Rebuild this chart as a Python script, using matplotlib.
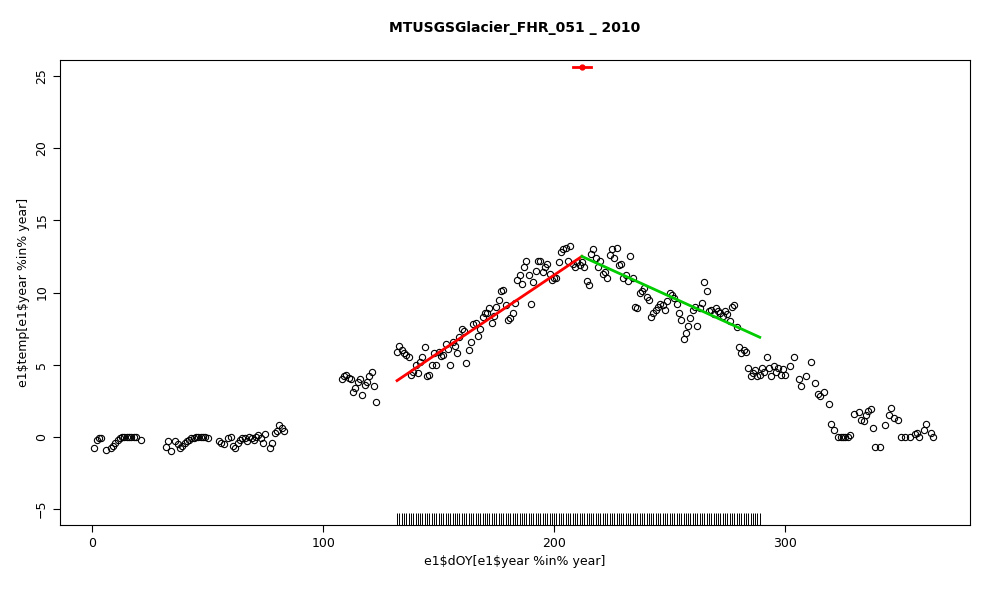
import numpy as np
import matplotlib
matplotlib.use("Agg")
import matplotlib.pyplot as plt
import matplotlib.transforms as mtrans

plt.rcParams['text.parse_math'] = False

# ---- data ----
daysA = [1,2,3,4,6,8,9,10,11,12,13,14,15,16,17,18,19,21]
tempA = [-0.8,-0.2,-0.1,-0.1,-0.9,-0.8,-0.6,-0.4,-0.2,-0.1,0,0,0,0,0,0,0,-0.2]
daysB = [32,33,34,36,37,38,39,40,41,42,43,44,45,46,47,48,49,50]
tempB = [-0.7,-0.3,-1.0,-0.3,-0.5,-0.8,-0.6,-0.4,-0.3,-0.2,-0.1,-0.1,0,0,0,0,0,-0.1]
daysC = [55,56,57,59,60,61,62,63,64,65,66,67,68,69,70,71,72,73,74,75,77,78,79,80,81,82,83]
tempC = [-0.3,-0.4,-0.5,-0.1,0.0,-0.6,-0.8,-0.4,-0.2,-0.1,-0.1,-0.3,0.0,-0.1,-0.2,0.0,0.1,-0.1,-0.4,0.2,-0.8,-0.4,0.3,0.4,0.8,0.6,0.4]
daysD = [108,109,110,111,112,113,114,115,116,117,118,119,120,121,122,123]
tempD = [4.0,4.2,4.3,4.1,4.0,3.1,3.4,3.8,4.0,2.9,3.6,3.8,4.2,4.5,3.5,2.4]
daysE = list(range(132, 300))
tempE = [5.9,6.3,6.0,5.8,5.7,5.5,4.3,4.5,5.0,4.4,
         5.2,5.5,6.2,4.2,4.3,5.0,5.8,5.0,5.9,5.6,
         5.7,6.4,6.1,5.0,6.6,6.3,5.8,6.9,7.5,7.3,
         5.1,6.0,6.6,7.8,7.9,7.0,7.5,8.3,8.6,8.6,
         8.9,7.9,8.4,9.0,9.5,10.1,10.2,9.1,8.1,8.2,
         8.6,9.3,10.9,11.2,10.6,11.8,12.2,11.2,9.2,10.7,
         11.5,12.2,12.2,11.4,11.8,12.0,11.3,10.9,11.0,11.0,
         12.1,12.8,13.0,13.1,12.2,13.2,12.0,11.8,12.1,11.9,
         12.1,11.8,10.8,10.5,12.7,13.0,12.4,11.8,12.2,11.3,
         11.4,11.0,12.6,13.0,12.4,13.1,11.9,12.0,11.0,11.2,
         10.8,12.5,11.0,9.0,8.9,10.0,10.1,10.3,9.7,9.5,
         8.3,8.6,8.8,9.0,9.2,9.1,8.8,9.4,10.0,9.8,
         9.6,9.2,8.6,8.1,6.8,7.2,7.7,8.2,8.8,9.0,
         7.7,8.9,9.3,10.7,10.1,8.7,8.8,8.5,8.9,8.7,
         8.6,8.4,8.7,8.5,8.0,9.0,9.1,7.6,6.2,5.8,
         6.0,5.9,4.8,4.2,4.4,4.6,4.2,4.3,4.8,4.5,
         5.5,4.8,4.2,4.9,4.5,4.8,4.3,4.7]
daysF = [300,302,304,306,307,309,311,313,314,315,317,319,320,321,323,324,325,326,327,328,
         330,332,333,334,335,336,337,338,339,341,343,345,346,347,349,350,352,354,356,357,358,360,361,363,364]
tempF = [4.3,4.9,5.5,4.0,3.5,4.2,5.2,3.7,3.0,2.8,3.1,2.3,0.9,0.5,0.0,0.0,0.0,0.0,0.0,0.1,
         1.6,1.7,1.2,1.1,1.5,1.8,1.9,0.6,-0.7,-0.7,0.8,1.5,2.0,1.3,1.2,0.0,0.0,0.0,0.2,0.3,0.0,0.5,0.9,0.3,0.0]

fit_x1 = [132, 212]; fit_y1 = [3.9, 12.5]
fit_x2 = [212, 289]; fit_y2 = [12.5, 6.9]
peak_day, peak_lo, peak_hi, peak_y = 212, 208, 216, 25.6
rug_days = list(range(132, 290))

days = daysA + daysB + daysC + daysD + daysE + daysF
temps = tempA + tempB + tempC + tempD + tempE + tempF

fig = plt.figure(figsize=(10, 6), dpi=100)
ax = fig.add_axes([0.06, 0.125, 0.91, 0.775])
ax.plot(days, temps, 'o', mfc='none', mec='black', ms=4.5, mew=0.8)
ax.plot(fit_x1, fit_y1, color='#ff0000', lw=2)
ax.plot(fit_x2, fit_y2, color='#00cc00', lw=2)
ax.plot([peak_lo, peak_hi], [peak_y, peak_y], color='#ff0000', lw=2)
ax.plot([peak_day], [peak_y], 'o', color='#ff0000', ms=3.5)
trans = mtrans.blended_transform_factory(ax.transData, ax.transAxes)
ax.vlines(rug_days, 0, 0.026, transform=trans, color='black', lw=0.7)

ax.set_xlim(-13.9, 380)
ax.set_ylim(-6.1, 26.1)
ax.set_xticks([0, 100, 200, 300])
ax.set_yticks([-5, 0, 5, 10, 15, 20, 25])
ax.tick_params(direction='out', length=5, labelsize=9)
for lbl in ax.get_yticklabels():
    lbl.set_rotation(90); lbl.set_va('center')
ax.set_xlabel('e1$dOY[e1$year %in% year]', fontsize=9)
ax.set_ylabel('e1$temp[e1$year %in% year]', fontsize=9)
ax.set_title('MTUSGSGlacier_FHR_051 _ 2010', fontsize=10, fontweight='bold', pad=20)
fig.savefig('out.png', dpi=100)
